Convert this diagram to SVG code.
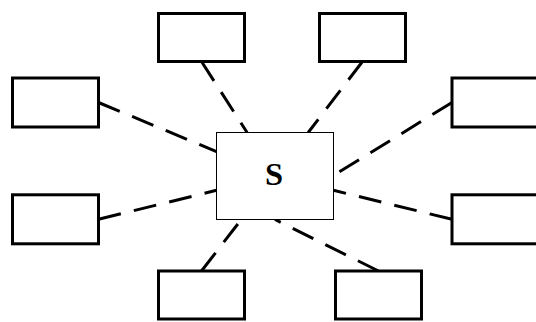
<svg xmlns="http://www.w3.org/2000/svg" width="536" height="322" viewBox="0 0 536 322">
<style>
.box{fill:#fff;stroke:#000;stroke-width:3}
.hub{fill:#fff;stroke:#000;stroke-width:1}
.link{stroke:#000;stroke-width:3;stroke-dasharray:23 13.4;fill:none}
.lbl{font-family:"Liberation Serif","Times New Roman",serif;font-weight:bold;font-size:32.5px;text-anchor:middle}
</style>
<rect width="536" height="322" fill="#fff"/>
<g id="connectors">
<line class="link" x1="201.5" y1="61.5" x2="247.1" y2="132.5"/>
<line class="link" x1="362.5" y1="61.5" x2="308.2" y2="132.5"/>
<line class="link" x1="98.5" y1="102.5" x2="216.5" y2="151.6"/>
<line class="link" x1="98.5" y1="219.3" x2="216.5" y2="190.3"/>
<line class="link" x1="452" y1="102.5" x2="333.5" y2="175.5"/>
<line class="link" x1="452" y1="219.3" x2="333.5" y2="190.3"/>
<line class="link" x1="201.5" y1="271" x2="241.3" y2="219.5"/>
<line class="link" x1="378.5" y1="271" x2="275" y2="219.5"/>
</g>
<g id="node-s">
<rect class="hub" x="216.5" y="132.5" width="117" height="87"/>
<text class="lbl" x="274" y="185">S</text>
</g>
<g id="node-tl"><rect class="box" x="158.5" y="13.5" width="86" height="48"/></g>
<g id="node-tr"><rect class="box" x="319.5" y="13.5" width="86" height="48"/></g>
<g id="node-lu"><rect class="box" x="12.5" y="78" width="86" height="49"/></g>
<g id="node-ll"><rect class="box" x="12.5" y="194.8" width="86" height="49"/></g>
<g id="node-ru"><rect class="box" x="452" y="78" width="86" height="49"/></g>
<g id="node-rl"><rect class="box" x="452" y="194.8" width="86" height="49"/></g>
<g id="node-bl"><rect class="box" x="158.5" y="271" width="86" height="48"/></g>
<g id="node-br"><rect class="box" x="335.5" y="271" width="86" height="48"/></g>
</svg>
